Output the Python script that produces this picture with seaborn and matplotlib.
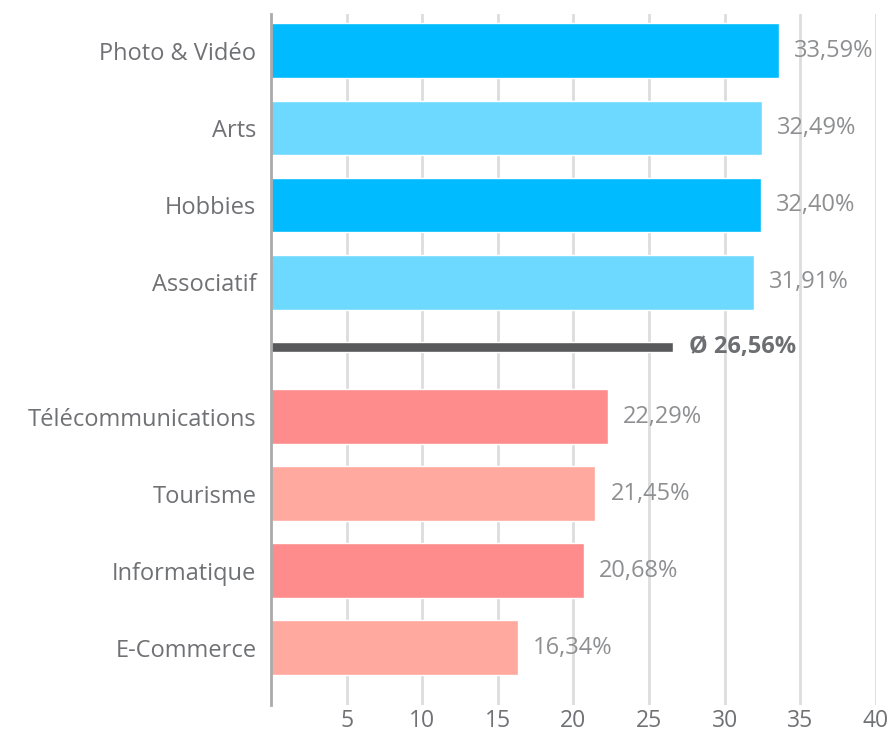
import matplotlib
matplotlib.use("Agg")
import matplotlib.pyplot as plt
import seaborn as sns
import pandas as pd

categories = ["Photo & Vidéo", "Arts", "Hobbies", "Associatif", "Ø",
              "Télécommunications", "Tourisme", "Informatique", "E-Commerce"]
values = [33.59, 32.49, 32.40, 31.91, 26.56, 22.29, 21.45, 20.68, 16.34]
labels = ["33,59%", "32,49%", "32,40%", "31,91%", "Ø 26,56%",
          "22,29%", "21,45%", "20,68%", "16,34%"]
colors = ["#00BBFF", "#6ED9FF", "#00BBFF", "#6ED9FF", "#58595B",
          "#FF8C8C", "#FFA99F", "#FF8C8C", "#FFA99F"]
xticks = [5, 10, 15, 20, 25, 30, 35, 40]

# layout: row centres (the average row sits in a narrower slot)
row_pos = [0, 1, 2, 3, 3.85, 4.75, 5.75, 6.75, 7.75]

sns.set_theme(style="white")
plt.rcParams["font.family"] = ["Open Sans", "DejaVu Sans"]

df = pd.DataFrame({"cat": categories, "val": values})

fig = plt.figure(figsize=(8.96, 7.38), dpi=100)
ax = fig.add_axes([0.3025, 0.045, 0.675, 0.936])

sns.barplot(data=df, y="cat", x="val", hue="cat", palette=colors,
            order=categories, hue_order=categories, width=0.714,
            legend=False, ax=ax, orient="h", saturation=1)

for i, p in enumerate(ax.patches):
    h = 0.13 if categories[i] == "Ø" else p.get_height()
    p.set_height(h)
    p.set_y(row_pos[i] - h / 2)

ax.set_xlim(0, 40)
ax.set_ylim(8.49, -0.48)
ax.set_xticks(xticks)
ax.set_xticklabels([str(t) for t in xticks])
ax.set_yticks(row_pos)
ax.set_yticklabels([c if c != "Ø" else "" for c in categories])
ax.set_xlabel("")
ax.set_ylabel("")

ax.grid(axis="x", color="#DDDDDD", linewidth=2)
ax.set_axisbelow(True)
for s in ["top", "right", "bottom"]:
    ax.spines[s].set_visible(False)
ax.spines["left"].set_color("#AAAAAA")
ax.spines["left"].set_linewidth(2)

fs = 17
ax.tick_params(axis="y", length=0, pad=10.5, labelsize=fs, labelcolor="#707174")
ax.tick_params(axis="x", length=0, pad=3, labelsize=16.5, labelcolor="#707174")

for i, (v, lab) in enumerate(zip(values, labels)):
    if categories[i] == "Ø":
        ax.text(v + 1.1, row_pos[i], lab, va="center", ha="left", fontsize=fs,
                color="#6D6E71", fontweight="bold")
    else:
        ax.text(v + 1.0, row_pos[i], lab, va="center", ha="left", fontsize=fs,
                color="#8E8F91")

fig.savefig("out.png", dpi=100)
